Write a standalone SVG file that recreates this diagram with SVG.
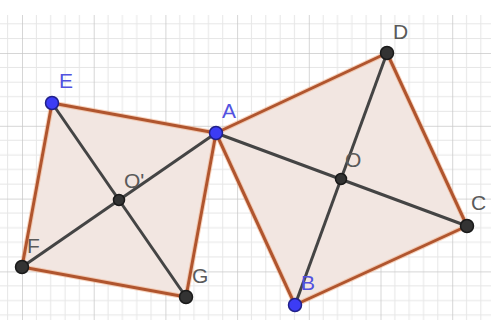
<svg xmlns="http://www.w3.org/2000/svg" width="491" height="320" viewBox="0 0 491 320">
<defs>
<pattern id="grid" patternUnits="userSpaceOnUse" x="22" y="53" width="71.7" height="72.8">
<g stroke="#e6e6e6" stroke-width="1">
<line x1="14.34" y1="0" x2="14.34" y2="72.8"/>
<line x1="28.68" y1="0" x2="28.68" y2="72.8"/>
<line x1="43.02" y1="0" x2="43.02" y2="72.8"/>
<line x1="57.36" y1="0" x2="57.36" y2="72.8"/>
<line x1="0" y1="14.56" x2="71.7" y2="14.56"/>
<line x1="0" y1="29.12" x2="71.7" y2="29.12"/>
<line x1="0" y1="43.68" x2="71.7" y2="43.68"/>
<line x1="0" y1="58.24" x2="71.7" y2="58.24"/>
</g>
<g stroke="#c8c8c8" stroke-width="1.5">
<line x1="0" y1="0" x2="0" y2="72.8"/>
<line x1="0" y1="0" x2="71.7" y2="0"/>
</g>
</pattern>
<style>
.sq{fill:#f2e6e1;stroke:none}
.edge{stroke:#b0552e;stroke-width:3;fill:none;stroke-linejoin:round}
.glow{stroke:#f0a070;stroke-opacity:0.45;stroke-width:5;fill:none}
.diag{stroke:#444;stroke-width:3;fill:none}
.pb{fill:#3c3cf5;stroke:#20208a;stroke-width:1.5}
.pd{fill:#333;stroke:#1a1a1a;stroke-width:1.5}
.lb{font-family:"Liberation Sans",Arial,sans-serif;font-size:21px;fill:#5252e0}
.ld{font-family:"Liberation Sans",Arial,sans-serif;font-size:21px;fill:#5a5a5a}
</style>
</defs>
<rect x="0" y="0" width="491" height="320" fill="#fff"/>
<rect x="0" y="15" width="491" height="305" fill="url(#grid)"/>
<g id="shapes">
<polygon class="sq" points="216,133 295,305 467,226 387,53"/>
<polygon class="sq" points="216,133 52,103 22,267 186,297"/>
</g>
<g id="connectors">
<polygon class="glow" points="216,133 295,305 467,226 387,53"/>
<polygon class="glow" points="216,133 52,103 22,267 186,297"/>
<polygon class="edge" points="216,133 295,305 467,226 387,53"/>
<polygon class="edge" points="216,133 52,103 22,267 186,297"/>
<line class="diag" x1="216" y1="133" x2="467" y2="226"/>
<line class="diag" x1="295" y1="305" x2="387" y2="53"/>
<line class="diag" x1="216" y1="133" x2="22" y2="267"/>
<line class="diag" x1="52" y1="103" x2="186" y2="297"/>
</g>
<g id="node-A"><circle class="pb" cx="216" cy="133" r="6.5"/><text class="lb" x="222" y="118">A</text></g>
<g id="node-B"><circle class="pb" cx="295" cy="305" r="6.5"/><text class="lb" x="301" y="290">B</text></g>
<g id="node-C"><circle class="pd" cx="467" cy="226" r="6.5"/><text class="ld" x="471" y="210">C</text></g>
<g id="node-D"><circle class="pd" cx="387" cy="53" r="6.5"/><text class="ld" x="393" y="39">D</text></g>
<g id="node-O"><circle class="pd" cx="341" cy="179" r="5.5"/><text class="ld" x="345" y="167">O</text></g>
<g id="node-E"><circle class="pb" cx="52" cy="103" r="6.5"/><text class="lb" x="59" y="88">E</text></g>
<g id="node-F"><circle class="pd" cx="22" cy="267" r="6.5"/><text class="ld" x="27" y="253">F</text></g>
<g id="node-G"><circle class="pd" cx="186" cy="297" r="6.5"/><text class="ld" x="192" y="283">G</text></g>
<g id="node-O2"><circle class="pd" cx="119" cy="200" r="5.5"/><text class="ld" x="124" y="188">O'</text></g>
</svg>
